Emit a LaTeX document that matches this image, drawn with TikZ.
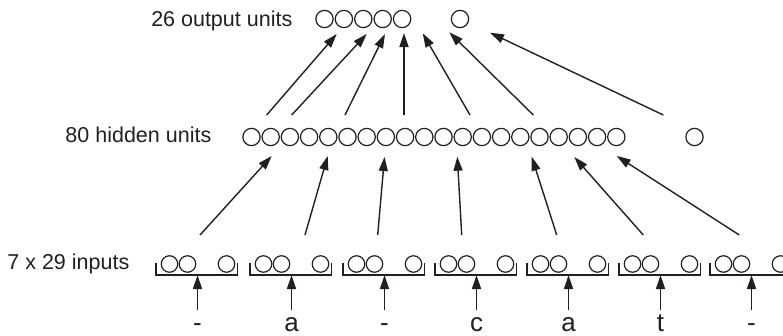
\documentclass[tikz,border=0pt]{standalone}
\usepackage{fontspec}
\setmainfont{Liberation Sans}
\usetikzlibrary{arrows.meta}
\definecolor{ink}{HTML}{231F20}
\begin{document}
\begin{tikzpicture}[x=1pt,y=-1pt, line width=1.4pt, draw=ink, text=ink,
  unit/.style={circle,draw,inner sep=0pt,minimum size=17.3pt,line width=1.2pt},
  inunit/.style={circle,draw,inner sep=0pt,minimum size=16.5pt,line width=1.2pt},
  lbl/.style={font=\fontsize{21.5}{24}\selectfont,inner sep=0pt,anchor=base east},
  chr/.style={font=\fontsize{26}{28}\selectfont,inner sep=0pt,anchor=base},
  arr/.style={-{Triangle[length=14pt,width=9pt]},line width=1.4pt,draw=ink},
  bracket/.style={line width=1.3pt,draw=ink}]
\clip (0,0) rectangle (783,335);

% layer labels
\node[lbl] (lout) at (293,26) {26 output units};
\node[lbl] (lhid) at (212,142) {80 hidden units};
\node[lbl] (lin) at (130,269.5) {7 x 29 inputs};

% output units
\foreach \i in {0,...,4} \node[unit] (o\i) at ({324.5+19.4*\i},19) {};
\node[unit] (olast) at (460,19) {};

% hidden units
\foreach \i in {0,...,19} \node[unit] (h\i) at ({251.5+19.2*\i},137) {};
\node[unit] (hlast) at (694.5,137) {};

% input groups
\foreach \k/\L/\c in {1/156/-,2/250/a,3/343/-,4/435/c,5/527/a,6/619/t,7/710/-}{
  \draw[bracket] (\L,262.5) -- (\L,275) -- ({\L+81.5},275) -- ({\L+81.5},262.5);
  \node[inunit] (i\k a) at ({\L+13.5},264) {};
  \node[inunit] (i\k b) at ({\L+31.5},264) {};
  \node[inunit] (i\k z) at ({\L+70.5},264) {};
  \coordinate (g\k) at ({\L+41.5},275);
  \coordinate (t\k) at ({\L+41.5},310);
  \node[chr] (ch\k) at ({\L+41.5},331) {\c};
  \draw[arr] (t\k) -- (g\k);
}

% input -> hidden
\foreach \n/\tx/\hx/\hy in {1/200/271.7/156,2/305/327.7/156,3/377.7/384.5/157,4/461.7/457.3/156.7,5/556.7/531.7/156.7,6/643.3/574.3/157,7/739.3/616.7/156}{
  \coordinate (ih\n s) at (\tx,235);
  \coordinate (ih\n e) at (\hx,\hy);
  \draw[arr] (ih\n s) -- (ih\n e);
}

% hidden -> output
\foreach \n/\tx/\hx/\hy in {1/266.7/336.7/34,2/291.7/366.7/34,3/345/385/34,4/404/404/33,5/470/422.7/33.3,6/533.3/449.3/32.3,7/663.3/490/32.7}{
  \coordinate (ho\n s) at (\tx,115);
  \coordinate (ho\n e) at (\hx,\hy);
  \draw[arr] (ho\n s) -- (ho\n e);
}
\end{tikzpicture}
\end{document}
